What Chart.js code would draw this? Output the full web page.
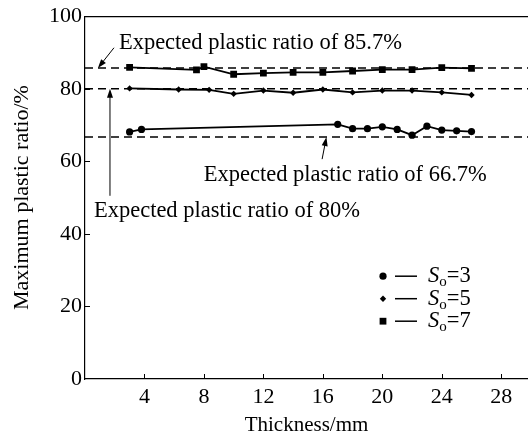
<!DOCTYPE html>
<html>
<head>
<meta charset="utf-8">
<script src="https://cdn.jsdelivr.net/npm/chart.js@4.4.1/dist/chart.umd.min.js"></script>
<style>
  html, body { margin: 0; padding: 0; background: #fff; overflow: hidden; }
  canvas { display: block; }
</style>
</head>
<body>
<canvas id="chart" width="528" height="441"></canvas>
<script>
// measured plastic ratio vs plate thickness, one series per So
const thicknessS3 = [3, 3.8, 17, 18, 19, 20, 21, 22, 23, 24, 25, 26]
const ratioS3 = [68.1, 68.8, 70.2, 69.0, 69.0, 69.5, 68.8, 67.2, 69.7, 68.6, 68.4, 68.2]
const thicknessS5 = [3, 6.3, 8.35, 10, 12, 14, 16, 18, 20, 22, 24, 26]
const ratioS5 = [80.1, 79.8, 79.7, 78.6, 79.5, 78.9, 79.8, 79.0, 79.5, 79.5, 79.0, 78.3]
const thicknessS7 = [3, 7.5, 8, 10, 12, 14, 16, 18, 20, 22, 24, 26]
const ratioS7 = [85.9, 85.2, 86.1, 84.0, 84.3, 84.5, 84.5, 84.9, 85.3, 85.3, 85.8, 85.6]
const soValues = ['3', '5', '7']
const expectedRatios = [85.7, 80, 66.7]
const xTicks = [4, 8, 12, 16, 20, 24, 28]
const yTicks = [0, 20, 40, 60, 80, 100]
const xMin = 0
const xMax = 29.8

const serif = '"Liberation Serif", "Times New Roman", serif'

const toPoints = (xs, ys) => xs.map((x, i) => ({ x, y: ys[i] }))

const seriesStyle = (label, xs, ys, pointStyle, radius) => ({
  label,
  data: toPoints(xs, ys),
  borderColor: '#000',
  backgroundColor: '#000',
  borderWidth: 1.8,
  pointStyle,
  pointRadius: radius,
  pointBorderWidth: 0,
  tension: 0,
})

// horizontal dashed reference lines across the whole x range
const expectedLines = expectedRatios.map(v => ({
  label: 'expected ' + v,
  data: [{ x: xMin, y: v }, { x: xMax, y: v }],
  borderColor: '#000',
  borderWidth: 1.5,
  borderDash: [8, 5],
  pointRadius: 0,
}))

// arrow callouts, in data units
const notes = [
  { text: 'Expected plastic ratio of 85.7%', x: 2.28, y: 92.6, from: [1.95, 91.3], to: [0.87, expectedRatios[0]] },
  { text: 'Expected plastic ratio of 80%', x: 0.6, y: 46.4, from: [1.68, 50.5], to: [1.68, expectedRatios[1]] },
  { text: 'Expected plastic ratio of 66.7%', x: 7.99, y: 56.3, from: [15.95, 60.6], to: [16.24, expectedRatios[2]] },
]

const drawArrow = (ctx, x1, y1, x2, y2) => {
  const ang = Math.atan2(y2 - y1, x2 - x1)
  const len = 9
  const half = 3
  ctx.beginPath()
  ctx.moveTo(x1, y1)
  ctx.lineTo(x2 - Math.cos(ang) * len * 0.8, y2 - Math.sin(ang) * len * 0.8)
  ctx.stroke()
  ctx.beginPath()
  ctx.moveTo(x2, y2)
  ctx.lineTo(x2 - Math.cos(ang) * len - Math.sin(ang) * half, y2 - Math.sin(ang) * len + Math.cos(ang) * half)
  ctx.lineTo(x2 - Math.cos(ang) * len + Math.sin(ang) * half, y2 - Math.sin(ang) * len - Math.cos(ang) * half)
  ctx.closePath()
  ctx.fill()
}

const decorations = {
  id: 'decorations',
  afterDraw(chart) {
    const { ctx, chartArea: area, scales: { x, y } } = chart
    ctx.save()
    ctx.strokeStyle = '#000'
    ctx.fillStyle = '#000'

    // inward tick marks
    ctx.lineWidth = 1
    yTicks.filter(v => v > 0 && v < 100).forEach(v => {
      const py = Math.round(y.getPixelForValue(v)) + 0.5
      ctx.beginPath()
      ctx.moveTo(area.left, py)
      ctx.lineTo(area.left + 5, py)
      ctx.stroke()
    })
    xTicks.forEach(v => {
      const px = Math.round(x.getPixelForValue(v)) + 0.5
      ctx.beginPath()
      ctx.moveTo(px, area.bottom)
      ctx.lineTo(px, area.bottom - 5)
      ctx.stroke()
    })

    // callouts
    ctx.font = '22.5px ' + serif
    ctx.textBaseline = 'middle'
    ctx.textAlign = 'left'
    notes.forEach(n => {
      ctx.fillText(n.text, x.getPixelForValue(n.x), y.getPixelForValue(n.y))
      drawArrow(ctx,
        x.getPixelForValue(n.from[0]), y.getPixelForValue(n.from[1]),
        x.getPixelForValue(n.to[0]), y.getPixelForValue(n.to[1]))
    })

    // legend with subscripted So
    const styles = ['circle', 'rectRot', 'rect']
    const radii = [3.6, 3.2, 4.8]
    const lx = area.left + 298
    let ly = area.top + 260
    soValues.forEach((s, i) => {
      Chart.helpers.drawPoint(ctx, { pointStyle: styles[i], radius: radii[i], borderWidth: 0 }, lx, ly)
      ctx.lineWidth = 1.5
      ctx.beginPath()
      ctx.moveTo(lx + 12, ly)
      ctx.lineTo(lx + 34, ly)
      ctx.stroke()
      let tx = lx + 45
      ctx.font = 'italic 22.5px ' + serif
      ctx.fillText('S', tx, ly)
      tx += ctx.measureText('S').width
      ctx.font = '15px ' + serif
      ctx.fillText('o', tx, ly + 6)
      tx += ctx.measureText('o').width
      ctx.font = '22.5px ' + serif
      ctx.fillText('=' + s, tx, ly)
      ly += 22.5
    })
    ctx.restore()
  }
}

const ctx = document.getElementById('chart')

const chart = new Chart(ctx, {
  type: 'line',
  data: {
    datasets: [
      seriesStyle('So=3', thicknessS3, ratioS3, 'circle', 3.6),
      seriesStyle('So=5', thicknessS5, ratioS5, 'rectRot', 3.2),
      seriesStyle('So=7', thicknessS7, ratioS7, 'rect', 4.8),
      ...expectedLines,
    ]
  },
  options: {
    responsive: false,
    animation: false,
    layout: { autoPadding: false, padding: { top: 15, right: 0, left: 0, bottom: 0 } },
    plugins: {
      legend: { display: false },
      tooltip: { enabled: false }
    },
    scales: {
      x: {
        type: 'linear',
        min: xMin,
        max: xMax,
        afterBuildTicks: scale => { scale.ticks = xTicks.map(value => ({ value })) },
        afterFit: scale => { scale.height = 62 },
        grid: { display: false, drawTicks: false },
        border: { display: true, color: '#000', width: 1.2 },
        ticks: {
          color: '#000',
          padding: 5,
          maxRotation: 0,
          font: { family: serif, size: 22 }
        },
        title: {
          display: true,
          text: 'Thickness/mm',
          color: '#000',
          padding: { top: 0, bottom: 3 },
          font: { family: serif, size: 21 }
        }
      },
      // empty axis on top, only its border line is drawn as the upper frame
      xTop: {
        type: 'linear',
        position: 'top',
        min: xMin,
        max: xMax,
        afterFit: scale => { scale.height = 0 },
        grid: { display: false, drawTicks: false },
        border: { display: true, color: '#000', width: 1.2 },
        ticks: { display: false }
      },
      y: {
        min: 0,
        max: 100,
        afterBuildTicks: scale => { scale.ticks = yTicks.map(value => ({ value })) },
        afterFit: scale => { scale.width = 85 },
        grid: { display: false, drawTicks: false },
        border: { display: true, color: '#000', width: 1.2 },
        ticks: {
          color: '#000',
          padding: 3,
          font: { family: serif, size: 22 }
        },
        title: {
          display: true,
          text: 'Maximum plastic ratio/%',
          color: '#000',
          padding: { top: 9, bottom: 0 },
          font: { family: serif, size: 22 }
        }
      }
    }
  },
  plugins: [decorations]
});
</script>
</body>
</html>
